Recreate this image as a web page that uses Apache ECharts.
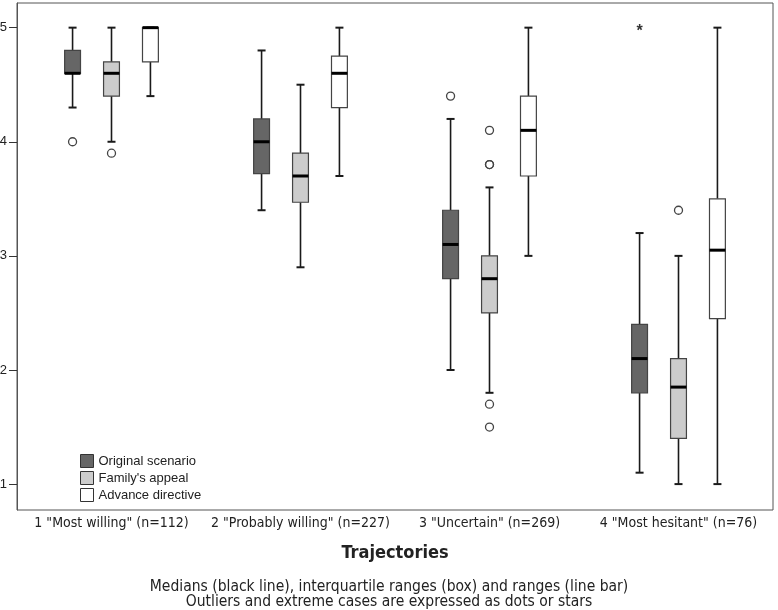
<!DOCTYPE html>
<html>
<head>
<meta charset="utf-8">
<script src="https://cdn.jsdelivr.net/npm/echarts@6/dist/echarts.min.js"></script>
<style>
  html, body { margin: 0; padding: 0; background: #fff; }
  #chart { width: 778px; height: 610px; }
</style>
</head>
<body>
<div id="chart"></div>
<script>
// trajectories on the x axis
const categories = ['1 "Most willing" (n=112)', '2 "Probably willing" (n=227)', '3 "Uncertain" (n=269)', '4 "Most hesitant" (n=76)'];
const scenarioNames = ['Original scenario', "Family's appeal", 'Advance directive'];

// [trajectory, low, q1, median, q3, high]
const originalBox = [[0, 4.3, 4.6, 4.6, 4.8, 5.0], [1, 3.4, 3.72, 4.0, 4.2, 4.8], [2, 2.0, 2.8, 3.1, 3.4, 4.2], [3, 1.1, 1.8, 2.1, 2.4, 3.2]];
const familyBox = [[0, 4.0, 4.4, 4.6, 4.7, 5.0], [1, 2.9, 3.47, 3.7, 3.9, 4.5], [2, 1.8, 2.5, 2.8, 3.0, 3.6], [3, 1.0, 1.4, 1.85, 2.1, 3.0]];
const directiveBox = [[0, 4.4, 4.7, 5.0, 5.0, 5.0], [1, 3.7, 4.3, 4.6, 4.75, 5.0], [2, 3.0, 3.7, 4.1, 4.4, 5.0], [3, 1.0, 2.45, 3.05, 3.5, 5.0]];

// outliers (dots) and extreme cases (stars): [trajectory, value]
const originalOutliers = [[0, 4.0], [2, 4.4]];
const originalExtremes = [[3, 5.0]];
const familyOutliers = [[0, 3.9], [2, 4.1], [2, 3.8], [2, 3.8], [2, 1.7], [2, 1.5], [3, 3.4]];

const yTicks = [1, 2, 3, 4, 5];

const captionLines = [
    'Medians (black line), interquartile ranges (box) and ranges (line bar)',
    'Outliers and extreme cases are expressed as dots or stars'
];

const slotOffset = [-0.206, 0, 0.206];   // box position inside a band
const fills = ['#666666', '#cccccc', '#ffffff'];
const narrow = '"Liberation Sans Narrow", "Arial Narrow", "DejaVu Sans Condensed", sans-serif';

function boxRender(slot) {
    return function (params, api) {
        const cat = api.value(0);
        const band = api.size([1, 0])[0];
        const cx = api.coord([cat, api.value(3)])[0] + slotOffset[slot] * band;
        const y = function (v) { return api.coord([cat, v])[1]; };
        const low = y(api.value(1)), q1 = y(api.value(2)), med = y(api.value(3));
        const q3 = y(api.value(4)), high = y(api.value(5));
        const half = band * 0.042;
        const cap = 4;
        const wStyle = { stroke: '#1a1a1a', lineWidth: 1.6 };
        return {
            type: 'group',
            children: [
                { type: 'line', shape: { x1: cx, y1: q3, x2: cx, y2: high }, style: wStyle },
                { type: 'line', shape: { x1: cx, y1: q1, x2: cx, y2: low }, style: wStyle },
                { type: 'line', shape: { x1: cx - cap, y1: high, x2: cx + cap, y2: high }, style: { stroke: '#1a1a1a', lineWidth: 2 } },
                { type: 'line', shape: { x1: cx - cap, y1: low, x2: cx + cap, y2: low }, style: { stroke: '#1a1a1a', lineWidth: 2 } },
                { type: 'rect', shape: { x: cx - half, y: q3, width: half * 2, height: q1 - q3 },
                  style: { fill: fills[slot], stroke: '#444', lineWidth: 1.2 } },
                { type: 'line', shape: { x1: cx - half, y1: med, x2: cx + half, y2: med }, style: { stroke: '#000', lineWidth: 3 } }
            ]
        };
    };
}

function pointRender(slot, star) {
    return function (params, api) {
        const cat = api.value(0);
        const band = api.size([1, 0])[0];
        const p = api.coord([cat, api.value(1)]);
        const cx = p[0] + slotOffset[slot] * band;
        if (star) {
            return { type: 'text', x: cx, y: p[1] + 4,
                style: { text: '*', fill: '#333', font: 'bold 16px "Liberation Sans", Arial', align: 'center', verticalAlign: 'middle' } };
        }
        return { type: 'circle', shape: { cx: cx, cy: p[1], r: 4 },
            style: { fill: 'rgba(0,0,0,0)', stroke: '#444', lineWidth: 1.3 } };
    };
}

const boxSets = [originalBox, familyBox, directiveBox];
const series = boxSets.map(function (d, i) {
    return {
        name: scenarioNames[i],
        type: 'custom',
        renderItem: boxRender(i),
        itemStyle: { color: fills[i], borderColor: '#333' },
        encode: { x: 0, y: [1, 2, 3, 4, 5] },
        data: d,
        z: 3
    };
});
series.push(
    { type: 'custom', renderItem: pointRender(0, false), encode: { x: 0, y: 1 }, data: originalOutliers, z: 4 },
    { type: 'custom', renderItem: pointRender(0, true), encode: { x: 0, y: 1 }, data: originalExtremes, z: 4 },
    { type: 'custom', renderItem: pointRender(1, false), encode: { x: 0, y: 1 }, data: familyOutliers, z: 4 }
);

const chart = echarts.init(document.getElementById('chart'), null, { renderer: 'canvas' });
chart.setOption({
    animation: false,
    backgroundColor: '#fff',
    textStyle: { fontFamily: '"Liberation Sans", Arial, sans-serif' },
    grid: { left: 17, right: 5, top: 3, bottom: 100, show: true, borderColor: '#555', borderWidth: 1, outerBoundsMode: 'none' },
    graphic: captionLines.map(function (t, i) {
        return {
            type: 'text', left: 'center', top: 579 + i * 15,
            style: { text: t, fill: '#222', font: '15.5px ' + narrow }
        };
    }),
    legend: {
        orient: 'vertical',
        left: 75,
        top: 449,
        itemWidth: 13,
        itemHeight: 13,
        itemGap: 3,
        icon: 'rect',
        selectedMode: false,
        textStyle: { fontSize: 13, color: '#222' },
        data: scenarioNames.map(function (n, i) {
            return { name: n, itemStyle: { color: fills[i], borderColor: '#333', borderWidth: 1 } };
        })
    },
    xAxis: {
        type: 'category',
        data: categories,
        axisLine: { show: false },
        axisTick: { show: false },
        axisLabel: { interval: 0, margin: 6, fontSize: 14, color: '#222', fontFamily: narrow },
        name: 'Trajectories',
        nameLocation: 'middle',
        nameGap: 34,
        nameTextStyle: { fontSize: 18, fontWeight: 'bold', color: '#222', fontFamily: narrow }
    },
    yAxis: {
        type: 'value',
        min: 0.773,
        max: 5.216,
        splitLine: { show: false },
        axisLine: { show: true, lineStyle: { color: '#555' } },
        axisTick: { show: true, length: 8, customValues: yTicks, lineStyle: { color: '#333' } },
        axisLabel: { customValues: yTicks, margin: 10, fontSize: 13, color: '#222' }
    },
    series: series
});
</script>
</body>
</html>
